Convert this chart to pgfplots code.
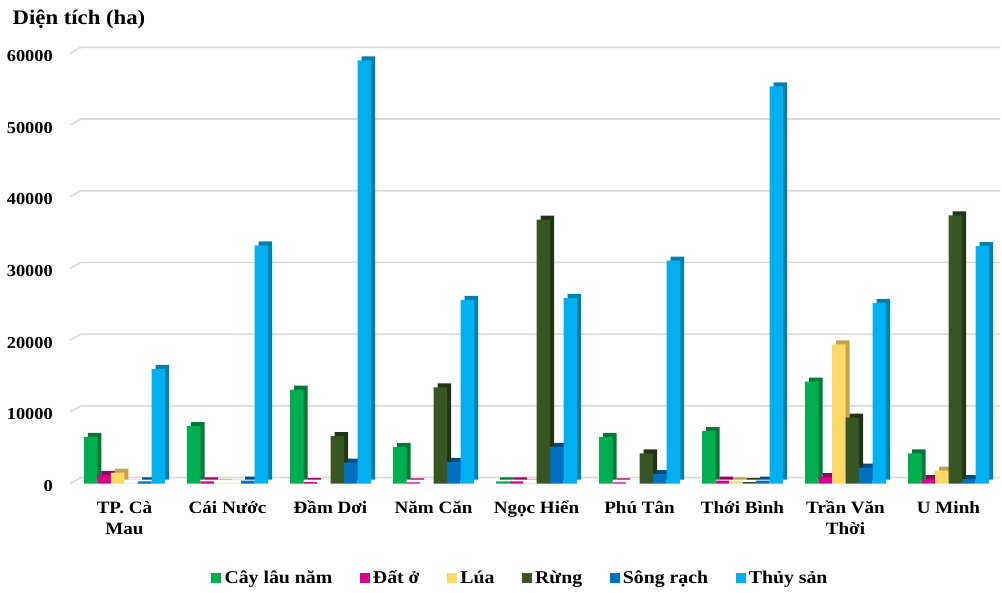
\documentclass[border=0pt]{standalone}
\usepackage{fontspec}
\setmainfont{Liberation Serif}[FakeStretch=1.1]
\usepackage{pgfplots}
\usepackage{pgfplotstable}
\pgfplotsset{compat=1.18}
\definecolor{cG}{HTML}{00B050}\definecolor{cGd}{HTML}{007A36}
\definecolor{cP}{HTML}{D6008C}\definecolor{cPd}{HTML}{990063}
\definecolor{cY}{HTML}{FFD966}\definecolor{cYd}{HTML}{C2A24A}
\definecolor{cR}{HTML}{375623}\definecolor{cRd}{HTML}{203514}
\definecolor{cS}{HTML}{0070C0}\definecolor{cSd}{HTML}{004C85}
\definecolor{cT}{HTML}{00B0F0}\definecolor{cTd}{HTML}{0080AE}
\definecolor{gridc}{HTML}{D9D9D9}
\pgfplotstableread{
x c d l r s t
0 6500 1200 1500 0 300 16000
1 8000 300 100 0 400 33200
2 13100 200 0 6600 2900 59000
3 5100 150 0 13400 3000 25600
4 300 300 100 36800 5100 25900
5 6500 150 0 4200 1300 31100
6 7300 400 300 200 400 55400
7 14200 900 19400 9200 2200 25200
8 4200 600 1800 37400 600 33100
}\data
\pgfplotsset{
  sq legend/.style={legend image code/.code={\fill[##1,draw=none] (0pt,-3.5pt) rectangle (7.5pt,3.5pt);}},
  shadow/.style={ybar, bar width=10.125pt, draw=none, xshift=3pt, yshift=3pt, forget plot},
  front/.style={ybar, bar width=10.125pt, draw=none, sq legend},
}
\newcommand{\T}{\rule{0pt}{15pt}}
\begin{document}
\begin{tikzpicture}
\useasboundingbox (-54.75pt,-81.375pt) rectangle (696.75pt,362.625pt);
\node[anchor=base west, font=\fontsize{15.5}{18}\selectfont\bfseries] at (-48.75pt,344.6pt) {Diện tích (ha)};
\begin{axis}[
  scale only axis, width=695.25pt, height=322.65pt,
  xmin=-0.5, xmax=8.5, ymin=0, ymax=60000, clip=false,
  axis line style={draw=none}, major tick length=0pt,
  ytick={0,10000,20000,30000,40000,50000,60000}, scaled y ticks=false,
  /pgf/number format/assume math mode=true,
  yticklabel style={/pgf/number format/fixed, /pgf/number format/set thousands separator={},
    font=\fontsize{12.5}{15}\selectfont\bfseries, anchor=east, inner sep=0pt, xshift=-15pt, yshift=-2pt},
  xtick={0,1,2,3,4,5,6,7,8},
  xticklabels={{\T TP. Cà\\Mau},{\T Cái Nước},{\T Đầm Dơi},{\T Năm Căn},{\T Ngọc Hiển},{\T Phú Tân},{\T Thới Bình},{\T Trần Văn\\Thời},{\T U Minh}},
  xticklabel style={font=\fontsize{13}{16}\selectfont\bfseries, align=center, anchor=north, inner sep=0pt, yshift=-7.3pt},
  legend columns=6,
  legend style={draw=none, fill=none, font=\fontsize{13.5}{16}\selectfont\bfseries,
    at={(0.4833,0)}, anchor=center, yshift=-70.9pt,
    nodes={inner xsep=2.5pt},
    /tikz/every even column/.append style={column sep=18pt}},
  legend cell align=left,
]
\pgfplotsinvokeforeach{0,10000,20000,30000,40000,50000,60000}{
  \draw[gridc, line width=1.2pt] ([xshift=-2pt]axis cs:-0.5,#1) -- ([shift={(6pt,4.5pt)}]axis cs:-0.5,#1) -- ([yshift=4.5pt]axis cs:8.5,#1);
}
\addplot[shadow, bar shift=-25.3125pt, fill=cGd] table[x=x,y=c]{\data};
\addplot[shadow, bar shift=-15.1875pt, fill=cPd] table[x=x,y=d]{\data};
\addplot[shadow, bar shift=-5.0625pt, fill=cYd] table[x=x,y=l]{\data};
\addplot[shadow, bar shift=5.0625pt, fill=cRd] table[x=x,y=r]{\data};
\addplot[shadow, bar shift=15.1875pt, fill=cSd] table[x=x,y=s]{\data};
\addplot[shadow, bar shift=25.3125pt, fill=cTd] table[x=x,y=t]{\data};
\addplot[front, bar shift=-25.3125pt, fill=cG] table[x=x,y=c]{\data};
\addplot[front, bar shift=-15.1875pt, fill=cP] table[x=x,y=d]{\data};
\addplot[front, bar shift=-5.0625pt, fill=cY] table[x=x,y=l]{\data};
\addplot[front, bar shift=5.0625pt, fill=cR] table[x=x,y=r]{\data};
\addplot[front, bar shift=15.1875pt, fill=cS] table[x=x,y=s]{\data};
\addplot[front, bar shift=25.3125pt, fill=cT] table[x=x,y=t]{\data};
\legend{Cây lâu năm, Đất ở, Lúa, Rừng, Sông rạch, Thủy sản}
\end{axis}
\end{tikzpicture}
\end{document}
